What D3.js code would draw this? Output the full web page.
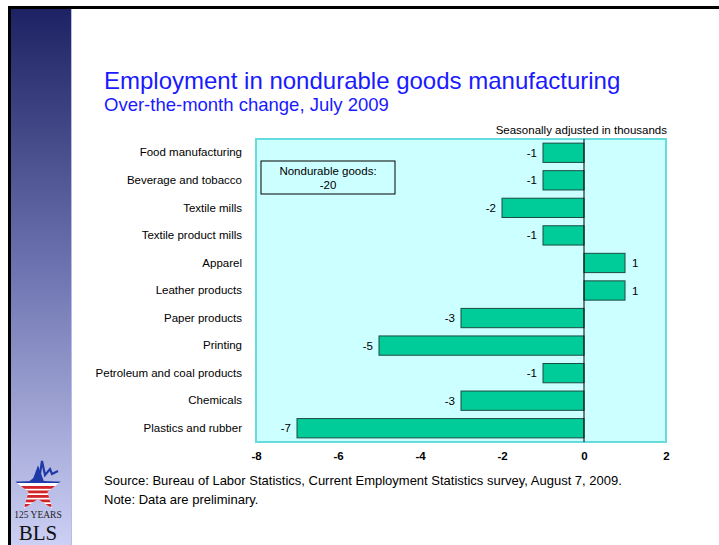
<!DOCTYPE html>
<html>
<head>
<meta charset="utf-8">
<script src="https://cdn.jsdelivr.net/npm/d3@7"></script>
<style>
  body { margin: 0; background: #fff; }
  svg { display: block; font-family: "Liberation Sans", Arial, sans-serif; }
</style>
</head>
<body>
<script>
// data
var industries = ["Food manufacturing", "Beverage and tobacco", "Textile mills",
    "Textile product mills", "Apparel", "Leather products", "Paper products",
    "Printing", "Petroleum and coal products", "Chemicals", "Plastics and rubber"];
var change = [-1, -1, -2, -1, 1, 1, -3, -5, -1, -3, -7];
var xTicks = [-8, -6, -4, -2, 0, 2];
var totalLabel = ["Nondurable goods:", "-20"];

var W = 719, H = 545;
var svg = d3.select("body").append("svg").attr("width", W).attr("height", H);

// slide frame: black lines and the blue gradient strip
var defs = svg.append("defs");
var grad = defs.append("linearGradient").attr("id", "side")
    .attr("x1", 0).attr("y1", 0).attr("x2", 0).attr("y2", 1);
grad.append("stop").attr("offset", "0%").attr("stop-color", "#1c2263");
grad.append("stop").attr("offset", "50%").attr("stop-color", "#7076b2");
grad.append("stop").attr("offset", "100%").attr("stop-color", "#ccd0f4");

svg.append("rect").attr("x", 11).attr("y", 9).attr("width", 60).attr("height", H - 9)
    .attr("fill", "url(#side)");
svg.append("rect").attr("x", 71).attr("y", 9).attr("width", 1).attr("height", H - 9)
    .attr("fill", "#b8bce8");
svg.append("rect").attr("x", 8).attr("y", 6).attr("width", W - 8).attr("height", 3).attr("fill", "#000");
svg.append("rect").attr("x", 8).attr("y", 6).attr("width", 3).attr("height", H - 6).attr("fill", "#000");

// BLS logo
var logo = svg.append("g").attr("transform", "translate(38,489)");
var star = [];
for (var i = 0; i < 10; i++) {
    var a = -Math.PI / 2 + i * Math.PI / 5, r = i % 2 ? 10 : 24;
    star.push([r * Math.cos(a), r * Math.sin(a)]);
}
logo.append("clipPath").attr("id", "starclip").append("polygon").attr("points", star.join(" "));
var sg = logo.append("g").attr("clip-path", "url(#starclip)");
sg.append("rect").attr("x", -25).attr("y", -25).attr("width", 50).attr("height", 50).attr("fill", "#fff");
sg.append("rect").attr("x", -25).attr("y", -25).attr("width", 50).attr("height", 19).attr("fill", "#1f3aa8");
[-3, 1.5, 6, 10.5, 15].forEach(function (y) {
    sg.append("rect").attr("x", -25).attr("y", y).attr("width", 50).attr("height", 2.8).attr("fill", "#d2232a");
});
logo.append("path").attr("d", "M-8,-7 L2,-15 L4,-28 L7,-14 L12,-20 L14,-15 L20,-18")
    .attr("fill", "none").attr("stroke", "#1f3aa8").attr("stroke-width", 2.2);
svg.append("text").attr("x", 38).attr("y", 518).attr("text-anchor", "middle")
    .attr("font-family", "Liberation Serif, serif").attr("font-size", 9.5).attr("fill", "#222")
    .text("125 YEARS");
svg.append("text").attr("x", 38).attr("y", 540).attr("text-anchor", "middle")
    .attr("font-family", "Liberation Serif, serif").attr("font-size", 21).attr("fill", "#111")
    .text("BLS");

// titles
svg.append("text").attr("x", 104).attr("y", 89).attr("font-size", 24).attr("fill", "#1a1aff")
    .text("Employment in nondurable goods manufacturing");
svg.append("text").attr("x", 104).attr("y", 111).attr("font-size", 18.5).attr("fill", "#1a1aff")
    .text("Over-the-month change, July 2009");

// plot area
var pLeft = 256, pRight = 666, pTop = 139, pBottom = 442;
var x = d3.scaleLinear().domain([-8, 2]).range([pLeft, pRight]);
var y = d3.scaleBand().domain(industries).range([pTop, pBottom]).paddingInner(0.3).paddingOuter(0.15);

svg.append("rect").attr("x", pLeft).attr("y", pTop).attr("width", pRight - pLeft).attr("height", pBottom - pTop)
    .attr("fill", "#ccffff").attr("stroke", "#66dddd").attr("stroke-width", 2);

svg.append("text").attr("x", 667).attr("y", 134).attr("text-anchor", "end")
    .attr("font-size", 11.5).attr("fill", "#000").text("Seasonally adjusted in thousands");

// total box
var box = svg.append("g");
box.append("rect").attr("x", 261).attr("y", 161).attr("width", 134).attr("height", 33)
    .attr("fill", "none").attr("stroke", "#000").attr("stroke-width", 1);
box.selectAll("text").data(totalLabel).enter().append("text")
    .attr("x", 328).attr("y", function (d, i) { return 175 + i * 14; })
    .attr("text-anchor", "middle").attr("font-size", 11.5).text(function (d) { return d; });

// bars
svg.selectAll("rect.bar").data(change).enter().append("rect").attr("class", "bar")
    .attr("x", function (d) { return x(Math.min(0, d)); })
    .attr("y", function (d, i) { return y(industries[i]); })
    .attr("width", function (d) { return Math.abs(x(d) - x(0)); })
    .attr("height", y.bandwidth())
    .attr("fill", "#00cc99").attr("stroke", "#1a4d40").attr("stroke-width", 1);

svg.selectAll("text.val").data(change).enter().append("text").attr("class", "val")
    .attr("x", function (d) { return d < 0 ? x(d) - 6 : x(d) + 7; })
    .attr("y", function (d, i) { return y(industries[i]) + y.bandwidth() / 2 + 4; })
    .attr("text-anchor", function (d) { return d < 0 ? "end" : "start"; })
    .attr("font-size", 11.5).text(function (d) { return d; });

// zero line
svg.append("line").attr("x1", x(0)).attr("x2", x(0)).attr("y1", pTop).attr("y2", pBottom)
    .attr("stroke", "#000").attr("stroke-width", 1);

// category axis
var yAxis = svg.append("g").attr("transform", "translate(" + (pLeft - 14) + ",0)")
    .call(d3.axisLeft(y).tickSize(0).tickPadding(0));
yAxis.select(".domain").remove();
yAxis.selectAll("text").attr("font-size", 11.5).attr("font-family", null).attr("fill", "#000");

// value axis
var xAxis = svg.append("g").attr("transform", "translate(0," + 452 + ")")
    .call(d3.axisBottom(x).tickValues(xTicks).tickSize(0).tickPadding(0)
        .tickFormat(function (d) { return String(d); }));
xAxis.select(".domain").remove();
xAxis.selectAll("text").attr("font-size", 11.5).attr("font-weight", "bold")
    .attr("font-family", null).attr("fill", "#000");

// footnotes
svg.append("text").attr("x", 104).attr("y", 485).attr("font-size", 13)
    .text("Source:  Bureau of Labor Statistics, Current Employment Statistics survey, August 7, 2009.");
svg.append("text").attr("x", 104).attr("y", 504).attr("font-size", 13)
    .text("Note:  Data are preliminary.");
</script>
</body>
</html>
